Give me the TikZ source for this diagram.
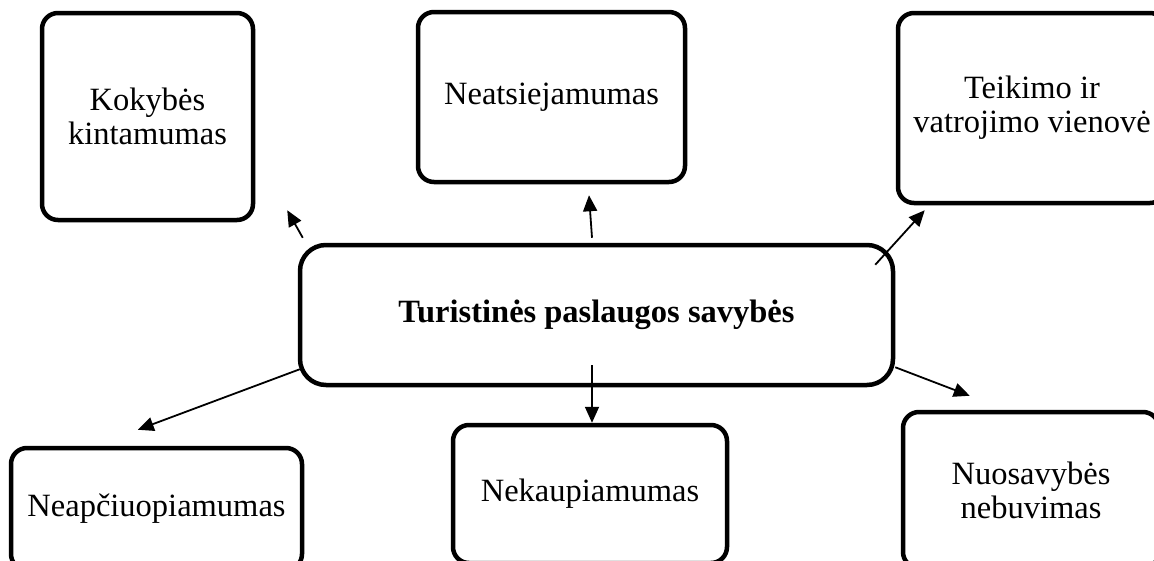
\documentclass[tikz,border=0pt]{standalone}
\usepackage{fontspec}
\setmainfont{Liberation Serif}
\usepackage{tikz}
\usetikzlibrary{positioning,arrows.meta}
\tikzset{
  prop/.style={rectangle, rounded corners=16pt, draw=black, line width=4.5pt,
               fill=white, inner sep=0pt, align=center,
               font=\fontsize{32.5}{34}\selectfont},
  core/.style={prop, rounded corners=26pt,
               font=\fontsize{32.5}{34}\selectfont\bfseries},
  flow/.style={-{Triangle[length=16pt,width=14pt]}, draw=black, line width=1.8pt},
}

\begin{document}
\begin{tikzpicture}[x=1pt, y=-1pt]
  \clip (0,0) rectangle (1154,560);

  % --- central node ---
  \node[core, minimum width=593pt, minimum height=140pt] (cen) at (596.5,315)
    {Turistinės paslaugos savybės};

  % --- upper properties ---
  \node[prop, minimum width=211pt, minimum height=207pt] (kok) at (147.5,116.5)
    {Kokybės\\kintamumas};
  \node[prop, minimum width=267pt, minimum height=170pt] (neat) at (551.5,97)
    {Neatsiejamumas};
  \node[prop, minimum width=268pt, minimum height=190pt] (teik) at (1032,108)
    {Teikimo ir\\vatrojimo vienovė};

  % --- lower properties (cut by the page edge) ---
  \node[prop, minimum width=291pt, minimum height=122pt] (neap) at (156.5,509)
    {Neapčiuopiamumas};
  \node[prop, minimum width=274pt, minimum height=138pt] (nek) at (590,494)
    {Nekaupiamumas};
  \node[prop, minimum width=256pt, minimum height=156pt] (nuo) at (1031,490)
    {Nuosavybės\\nebuvimas};

  % --- arrows from the centre ---
  \draw[flow] ([shift={(5pt,5pt)}]cen.north west) -- ([shift={(32pt,12pt)}]kok.south east);
  \draw[flow] ([shift={(-4.5pt,5pt)}]cen.north) -- ([shift={(37.5pt,-11pt)}]neat.south);
  \draw[flow] ([shift={(-20pt,-22pt)}]cen.north east) -- ([shift={(29pt,-5pt)}]teik.south west);
  \draw[flow] ([shift={(2pt,18pt)}]cen.south west) -- ([shift={(129pt,16pt)}]neap.north west);
  \draw[flow] ([shift={(-4.5pt,22pt)}]cen.south) -- ([shift={(2pt,0pt)}]nek.north);
  \draw[flow] ([shift={(0pt,20pt)}]cen.south east) -- ([shift={(69pt,14pt)}]nuo.north west);
\end{tikzpicture}
\end{document}
